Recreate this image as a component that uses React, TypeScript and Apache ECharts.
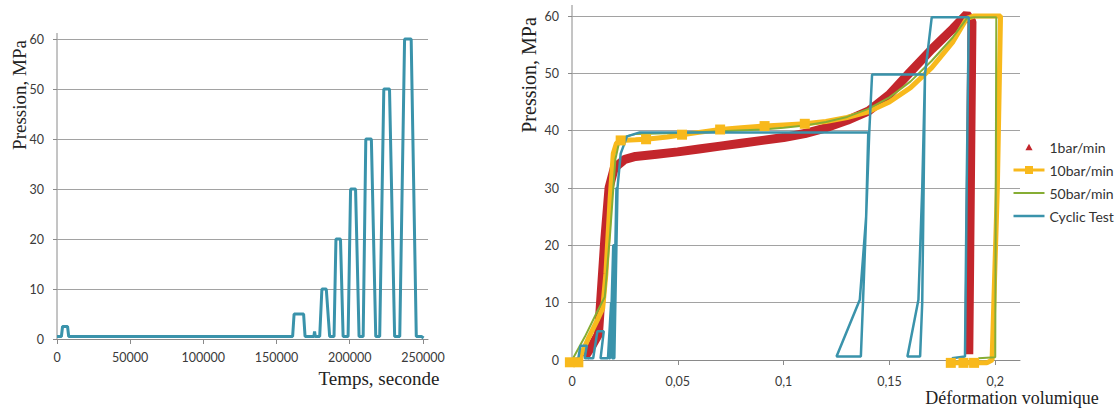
import React, { useEffect, useRef } from "react";
import * as echarts from "echarts";

// ---- Left chart: pressure vs time (cyclic test)
const timeTicks = [0, 50000, 100000, 150000, 200000, 250000];
const cycTime = [0, 3000, 3800, 7200, 8000, 161000, 162000, 168500, 169500, 175500, 176000, 176500, 179500, 181000, 184000, 186300, 189300, 190600, 193700, 195500, 198900, 200600, 204000, 206400, 209200, 211000, 214800, 217800, 220500, 223300, 227200, 230700, 234200, 237500, 242000, 245500, 249000, 250500];
const cycPress = [0.5, 0.5, 2.5, 2.5, 0.5, 0.5, 5, 5, 0.5, 0.5, 1.5, 0.5, 0.5, 10, 10, 0.5, 0.5, 20, 20, 0.5, 0.5, 30, 30, 0.5, 0.5, 40, 40, 0.5, 0.5, 50, 50, 0.5, 0.5, 60, 60, 0.5, 0.5, 0.2];

// ---- Right chart: pressure vs volumetric strain
const strainTicks = [0, 0.05, 0.1, 0.15, 0.2];
const seriesNames = ["1bar/min", "10bar/min", "50bar/min", "Cyclic Test"];

const r1X = [0.006, 0.0095, 0.0125, 0.0135, 0.0155, 0.0175, 0.02, 0.025, 0.03, 0.04, 0.05, 0.06, 0.07, 0.08, 0.09, 0.1, 0.11, 0.12, 0.13, 0.14, 0.15, 0.16, 0.17, 0.18, 0.1865, 0.189, 0.1875];
const r1Y = [0.5, 2.5, 4.5, 10, 21, 30, 33.5, 35, 35.5, 35.9, 36.3, 36.8, 37.3, 37.8, 38.3, 38.8, 39.5, 40.5, 41.8, 43.4, 46.3, 50.3, 54.2, 57.8, 60.3, 59, 1];

const r10X = [-0.001, 0.003, 0.005, 0.008, 0.012, 0.0145, 0.016, 0.018, 0.0195, 0.021, 0.023, 0.03, 0.035, 0.045, 0.052, 0.06, 0.07, 0.08, 0.091, 0.1, 0.11, 0.12, 0.13, 0.14, 0.15, 0.16, 0.17, 0.18, 0.1866, 0.19, 0.2025, 0.201, 0.1985, 0.196, 0.19, 0.185, 0.179];
const r10Y = [-0.4, -0.4, 1.5, 4, 7, 9, 15, 28, 36, 37.8, 38.3, 38.4, 38.5, 38.9, 39.3, 39.7, 40.2, 40.5, 40.8, 41, 41.2, 41.6, 42.3, 43.3, 45, 47.5, 51, 55.5, 59.6, 60, 60, 30, 0, -0.5, -0.5, -0.5, -0.5];
const r10MarkerIdx = [0, 1, 10, 12, 14, 16, 18, 20, 34, 35, 36];

const r50X = [0.0005, 0.006, 0.012, 0.0155, 0.018, 0.0205, 0.022, 0.0255, 0.03, 0.05, 0.07, 0.09, 0.1, 0.11, 0.12, 0.13, 0.14, 0.15, 0.16, 0.17, 0.18, 0.1866, 0.19, 0.2005, 0.2, 0.192];
const r50Y = [0.3, 4, 8.5, 11, 22, 35, 37.5, 39, 39.4, 39.6, 39.9, 40.2, 40.5, 40.9, 41.5, 42.4, 43.8, 45.8, 48.6, 52.2, 56.3, 59.6, 59.8, 59.8, 0.5, 0.3];

const cycX = [0, 0.003, 0.004, 0.007, 0.006, 0.01, 0.012, 0.015, 0.0135, 0.017, 0.0185, 0.019, 0.0175, 0.018, 0.0195, 0.0205, 0.019, 0.0195, 0.021, 0.0215, 0.0195, 0.02, 0.0215, 0.023, 0.026, 0.032, 0.14, 0.139, 0.136, 0.125, 0.1365, 0.1375, 0.1395, 0.1405, 0.1418, 0.1668, 0.1655, 0.1637, 0.1585, 0.1645, 0.1655, 0.1668, 0.17, 0.1875, 0.1865, 0.1857, 0.1795];
const cycY = [0, 0.3, 2.5, 2.5, 0.3, 0.3, 5, 5, 0.3, 0.3, 10, 10, 0.3, 0.3, 20, 20, 0.3, 0.3, 30, 30, 0.3, 0.3, 30, 36, 39, 39.7, 39.7, 25, 10.5, 0.6, 0.6, 10, 30, 40, 49.8, 49.8, 30, 10.5, 0.6, 0.6, 10, 49.8, 59.8, 59.8, 30, 0.6, 0.3];

const zip = (xs: number[], ys: number[]) => xs.map((x, i) => [x, ys[i]]);

const COL_RED = "#c3262c";
const COL_YEL = "#f8b91c";
const COL_GRN = "#86ad34";
const COL_BLU = "#3a93ab";
const GRID_COL = "#a2a2a2";
const AXIS_COL = "#8a8a8a";
const LABEL = { color: "#3a3a3a", fontFamily: "Lato", fontSize: 12.5 };
const SERIF = "Liberation Serif";

export default function App() {
  const ref = useRef<HTMLDivElement>(null);
  useEffect(() => {
    if (!ref.current) return;
    const chart = echarts.init(ref.current, undefined, { renderer: "svg" });
    const isMult = (v: number, step: number) => Math.abs(v / step - Math.round(v / step)) < 1e-6;

    const yellowData = zip(r10X, r10Y).map((p, i) =>
      r10MarkerIdx.includes(i) ? { value: p } : { value: p, symbol: "none" }
    );

    const option: any = {
      animation: false,
      backgroundColor: "#ffffff",
      grid: [
        { left: 57, top: 39, width: 371, height: 300 },
        { left: 572, top: 16, width: 448, height: 344 },
      ],
      xAxis: [
        {
          gridIndex: 0, type: "value", min: 0, max: 253500, interval: 50000,
          axisLine: { show: true, lineStyle: { color: AXIS_COL } },
          axisTick: { show: true, length: 5, lineStyle: { color: AXIS_COL }, customValues: timeTicks },
          axisLabel: { ...LABEL, margin: 12, customValues: timeTicks, formatter: (v: number) => (isMult(v, 50000) ? String(v) : "") },
          splitLine: { show: false },
        },
        {
          gridIndex: 1, type: "value", min: 0, max: 0.2117, interval: 0.05,
          axisLine: { show: true, lineStyle: { color: AXIS_COL } },
          axisTick: { show: true, length: 5, lineStyle: { color: AXIS_COL }, customValues: strainTicks },
          axisLabel: { ...LABEL, margin: 15, customValues: strainTicks, formatter: (v: number) => (isMult(v, 0.05) ? String(+v.toFixed(2)).replace(".", ",") : "") },
          splitLine: { show: false },
        },
      ],
      yAxis: [
        {
          gridIndex: 0, type: "value", min: 0, max: 60, interval: 10,
          axisLine: { show: false },
          axisTick: { show: true, length: 4, lineStyle: { color: AXIS_COL } },
          axisLabel: { ...LABEL, margin: 13 },
          splitLine: { show: true, lineStyle: { color: GRID_COL, width: 1 } },
        },
        {
          gridIndex: 1, type: "value", min: 0, max: 60, interval: 10,
          axisLine: { show: false },
          axisTick: { show: true, length: 4, lineStyle: { color: AXIS_COL } },
          axisLabel: { ...LABEL, margin: 13 },
          splitLine: { show: true, lineStyle: { color: GRID_COL, width: 1 } },
        },
      ],
      legend: {
        orient: "vertical", left: 1007, top: 135, itemWidth: 31, itemHeight: 10, itemGap: 9,
        textStyle: { color: "#333", fontFamily: "Lato", fontSize: 14 },
        data: [
          { name: seriesNames[0], icon: "path://M0,0M14,14M7,2.5L12,11.5L2,11.5Z" },
          { name: seriesNames[1], lineStyle: { width: 3 } },
          { name: seriesNames[2], icon: "path://M0,0L31,0L31,2L0,2Z" },
          { name: seriesNames[3], icon: "path://M0,0L31,0L31,2.5L0,2.5Z" },
        ],
      },
      graphic: [
        { type: "line", shape: { x1: 57, y1: 33, x2: 57, y2: 339 }, style: { stroke: AXIS_COL, lineWidth: 1 } },
        { type: "line", shape: { x1: 572, y1: 5, x2: 572, y2: 360 }, style: { stroke: AXIS_COL, lineWidth: 1 } },
        { type: "text", x: 19, y: 95, rotation: Math.PI / 2, style: { text: "Pression, MPa", fontFamily: SERIF, fontSize: 19, fill: "#222", align: "center", verticalAlign: "middle" } },
        { type: "text", x: 379, y: 378, style: { text: "Temps, seconde", fontFamily: SERIF, fontSize: 19, fill: "#222", align: "center", verticalAlign: "middle" } },
        { type: "text", x: 529, y: 75, rotation: Math.PI / 2, style: { text: "Pression, MPa", fontFamily: SERIF, fontSize: 20, fill: "#222", align: "center", verticalAlign: "middle" } },
        { type: "text", x: 1012, y: 398, style: { text: "Déformation volumique", fontFamily: SERIF, fontSize: 18, fill: "#222", align: "center", verticalAlign: "middle" } },
      ],
      series: [
        {
          name: "Cyclic (time)", type: "line", xAxisIndex: 0, yAxisIndex: 0, symbol: "none",
          data: zip(cycTime, cycPress), lineStyle: { color: COL_BLU, width: 3 }, itemStyle: { color: COL_BLU }, clip: false,
        },
        {
          name: seriesNames[0], type: "line", xAxisIndex: 1, yAxisIndex: 1, symbol: "triangle", showSymbol: false,
          data: zip(r1X, r1Y), lineStyle: { color: COL_RED, width: 9 }, itemStyle: { color: COL_RED }, clip: false,
        },
        {
          name: seriesNames[1], type: "line", xAxisIndex: 1, yAxisIndex: 1, symbol: "rect", symbolSize: 10, showAllSymbol: true,
          data: yellowData, lineStyle: { color: COL_YEL, width: 5 }, itemStyle: { color: COL_YEL }, clip: false,
        },
        {
          name: seriesNames[2], type: "line", xAxisIndex: 1, yAxisIndex: 1, symbol: "none",
          data: zip(r50X, r50Y), lineStyle: { color: COL_GRN, width: 2 }, itemStyle: { color: COL_GRN }, clip: false,
        },
        {
          name: seriesNames[3], type: "line", xAxisIndex: 1, yAxisIndex: 1, symbol: "none",
          data: zip(cycX, cycY), lineStyle: { color: COL_BLU, width: 2.5 }, itemStyle: { color: COL_BLU }, clip: false,
        },
      ],
    };
    chart.setOption(option);
    return () => chart.dispose();
  }, []);
  return <div ref={ref} style={{ position: "absolute", left: 0, top: 0, width: 1118, height: 409 }} />;
}
